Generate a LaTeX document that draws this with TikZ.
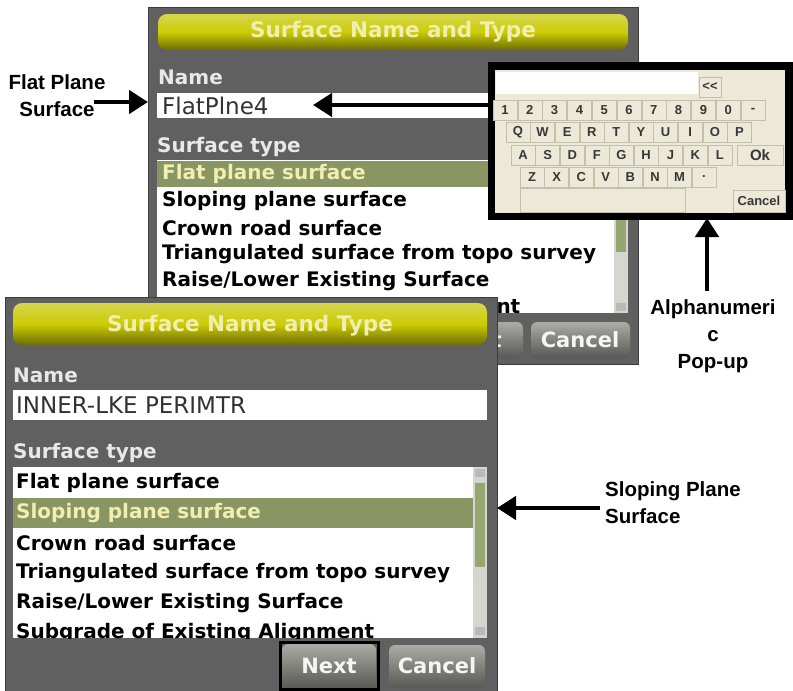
\documentclass[tikz,border=0pt]{standalone}
\usepackage{fontspec}
\setmainfont{Liberation Sans}
\newfontfamily\scrfont{DejaVu Sans}
\usetikzlibrary{arrows.meta,positioning}
\definecolor{scrbg}{RGB}{96,96,96}
\definecolor{scredge}{RGB}{60,60,60}
\definecolor{titletop}{RGB}{214,214,80}
\definecolor{titlemid}{RGB}{204,204,4}
\definecolor{titlebot}{RGB}{108,108,4}
\definecolor{titletext}{RGB}{240,238,176}
\definecolor{lbltext}{RGB}{232,232,232}
\definecolor{fieldtext}{RGB}{50,50,50}
\definecolor{selrow}{RGB}{137,150,100}
\definecolor{thumb}{RGB}{150,166,112}
\definecolor{track}{RGB}{214,214,208}
\definecolor{btntop}{RGB}{172,172,166}
\definecolor{btnbot}{RGB}{88,88,84}
\definecolor{padbg}{RGB}{236,233,216}
\definecolor{keyline}{RGB}{196,190,172}
\definecolor{keytext}{RGB}{55,55,55}

\begin{document}
\begin{tikzpicture}[x=1pt,y=-1pt,
  titlebar/.style={rounded corners=9pt, top color=titletop, bottom color=titlebot, middle color=titlemid},
  titletxt/.style={font=\scrfont\bfseries\fontsize{21.5}{24}\selectfont, text=titletext, inner sep=0},
  lbl/.style={font=\scrfont\bfseries\fontsize{20}{24}\selectfont, text=lbltext, anchor=west, inner sep=0},
  row/.style={font=\scrfont\bfseries\fontsize{20}{24}\selectfont, anchor=west, inner sep=0},
  selrowtxt/.style={row, text=titletext},
  field/.style={font=\scrfont\fontsize{23}{26}\selectfont, text=fieldtext, anchor=west, inner sep=0},
  btn/.style={rounded corners=6pt, top color=btntop, bottom color=btnbot},
  btntxt/.style={font=\scrfont\bfseries\fontsize{21}{24}\selectfont, text=white!92!gray, inner sep=0},
  keycap/.style={draw=keyline, fill=padbg, minimum width=24pt, minimum height=20pt, inner sep=0,
    font=\bfseries\fontsize{13}{14}\selectfont, text=keytext},
  callout/.style={font=\bfseries\fontsize{20.5}{27}\selectfont, align=center, inner sep=0},
  bigarrow/.style={line width=4.5pt, -{Triangle[length=19pt,width=23pt]}}
]
\useasboundingbox (0,0) rectangle (793,691);

% Back screen
\fill[scrbg, draw=scredge] (148,7) rectangle (638,364);
\shade[titlebar] (158,14) rectangle (628,50);
\node[titletxt] (titleB) at (393,32) {Surface Name and Type};
\node[lbl] (nameB) at (158,77) {Name};
\fill[white] (157,93) rectangle (628,118);
\node[field] (fieldB) at (162,106) {FlatPlne4};
\node[lbl] (typeB) at (157,147) {Surface type};
\fill[white] (157,160) rectangle (628,313);
\fill[selrow] (157,161) rectangle (614,187);
\begin{scope}
  \clip (157,160) rectangle (614,313);
  \node[selrowtxt] (b1) at (162,174) {Flat plane surface};
  \foreach \t [count=\i from 2] in {Sloping plane surface, Crown road surface,
      Triangulated surface from topo survey, Raise/Lower Existing Surface,
      Subgrade of Existing Alignment}
    \node[row] (b\i) at (162,{174+26.8*(\i-1)}) {\t};
\end{scope}
\fill[track] (614,160) rectangle (628,313);
\fill[thumb] (616,188) rectangle (626,252);
\fill[gray!55] (616,162) rectangle (626,170);
\fill[gray!55] (616,303) rectangle (626,311);
\shade[btn] (425,322) rectangle (523,358);
\node[btntxt] (nextB) at (474,340) {Next};
\shade[btn] (531,322) rectangle (630,358);
\node[btntxt] (cancelB) at (580,340) {Cancel};

% Alphanumeric pop-up
\node[draw, line width=5pt, fill=padbg, minimum width=295pt, minimum height=148pt, inner sep=0] (keypad) at (640,141) {};
\fill[white] (496,72) rectangle (698,94);
\node[keycap, minimum width=22pt] (bskey) at (710,87) {<{}<};
\foreach \k [count=\i from 0] in {1,2,3,4,5,6,7,8,9,0,-}
  \node[keycap] (n\i) at ({505+24.8*\i},110) {\k};
\foreach \k [count=\i from 0] in {Q,W,E,R,T,Y,U,I,O,P}
  \node[keycap] (q\i) at ({518+24.6*\i},132) {\k};
\foreach \k [count=\i from 0] in {A,S,D,F,G,H,J,K,L}
  \node[keycap] (a\i) at ({523+24.6*\i},155) {\k};
\node[keycap, minimum width=46pt, font=\bfseries\fontsize{15}{16}\selectfont] (okkey) at (760,155) {Ok};
\foreach \k [count=\i from 0] in {Z,X,C,V,B,N,M}
  \node[keycap] (z\i) at ({532+24.6*\i},177) {\k};
\node[keycap, minimum width=24pt] (dotkey) at (704,177) {.};
\node[keycap, minimum width=165pt, minimum height=24pt] (spacekey) at (603,200) {};
\node[keycap, minimum width=52pt, minimum height=22pt, font=\bfseries\fontsize{13}{14}\selectfont] (cancelkey) at (759,201) {Cancel};
\draw[line width=5pt] (keypad.north west) rectangle (keypad.south east);

% Front screen
\fill[scrbg, draw=scredge] (5,297) rectangle (497,695);
\shade[titlebar] (13,303) rectangle (487,345);
\node[titletxt] (titleF) at (250,326) {Surface Name and Type};
\node[lbl] (nameF) at (13,375) {Name};
\fill[white] (13,390) rectangle (487,420);
\node[field] (fieldF) at (16,405) {INNER-LKE PERIMTR};
\node[lbl] (typeF) at (13,453) {Surface type};
\fill[white] (13,467) rectangle (487,638);
\fill[selrow] (13,498) rectangle (473,528);
\begin{scope}
  \clip (13,467) rectangle (473,638);
  \node[row] (f1) at (16,483) {Flat plane surface};
  \node[selrowtxt] (f2) at (16,513) {Sloping plane surface};
  \foreach \t [count=\i from 3] in {Crown road surface,
      Triangulated surface from topo survey, Raise/Lower Existing Surface,
      Subgrade of Existing Alignment}
    \node[row] (f\i) at (16,{483+30*(\i-1)}) {\t};
\end{scope}
\fill[track] (473,467) rectangle (487,638);
\fill[thumb] (475,483) rectangle (485,567);
\fill[gray!55] (475,469) rectangle (485,477);
\fill[gray!55] (475,627) rectangle (485,635);
\shade[btn] (282,644) rectangle (376,688);
\node[btntxt] (nextF) at (329,666) {Next};
\shade[btn] (389,645) rectangle (485,688);
\node[btntxt] (cancelF) at (437,666) {Cancel};
\draw[line width=3pt] (280.5,642.5) rectangle (378.5,689.5);

% Callouts
\node[callout] (flatlbl) at (57,96) {Flat Plane\\Surface};
\coordinate (flattail) at (94,102);
\coordinate (flattip) at (148,102);
\draw[bigarrow] (flattail) -- (flattip);

\coordinate (namedtip) at (313,105);
\draw[bigarrow] (keypad.west |- namedtip) -- (namedtip);

\node[callout, anchor=north] (alphalbl) at (713,299) {Alphanumeri\\c\\Pop-up};
\coordinate (alphatail) at (707,291);
\draw[bigarrow] (alphatail) -- (alphatail |- 0,218);

\node[callout, align=left, anchor=west] (slopelbl) at (605,503) {Sloping Plane\\Surface};
\coordinate (slopetail) at (600,508);
\draw[bigarrow] (slopetail) -- (497,508);
\end{tikzpicture}
\end{document}
